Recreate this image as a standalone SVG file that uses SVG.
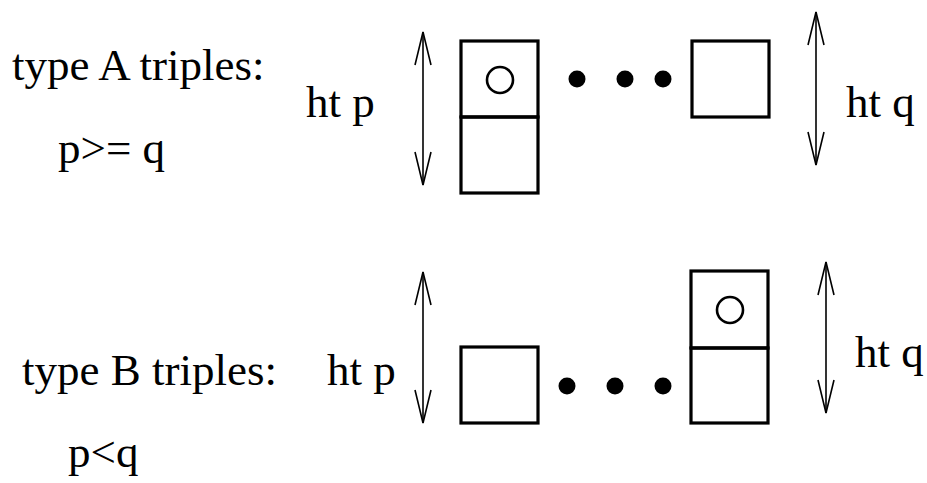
<svg xmlns="http://www.w3.org/2000/svg" width="927" height="483" viewBox="0 0 927 483">
  <style>
    .lbl { font-family: 'Liberation Serif', 'Times New Roman', Times, 'DejaVu Serif', serif; font-size: 45px; fill: #000; }
    .box { fill: none; stroke: #000; stroke-width: 3.2; }
    .ring { fill: none; stroke: #000; stroke-width: 2.6; }
    .dot { fill: #000; }
    .dim { fill: none; stroke: #000; stroke-width: 1.6; }
  </style>
  <defs>
    <!-- open V arrowhead, tip at origin pointing up -->
    <path id="vhead" d="M -8 33 L 0 0 L 8 33" fill="none" stroke="#000" stroke-width="1.6"/>
  </defs>

  <g id="labels">
    <text class="lbl" x="12" y="80">type A triples:</text>
    <text class="lbl" x="58" y="163">p&gt;= q</text>
    <text class="lbl" x="22" y="385">type B triples:</text>
    <text class="lbl" x="68" y="467">p&lt;q</text>
  </g>

  <g id="rowA">
    <g id="a-left-stack">
      <rect class="box" x="461" y="41" width="77" height="76"/>
      <rect class="box" x="461" y="117" width="77" height="76"/>
      <circle class="ring" cx="500" cy="80" r="13"/>
    </g>
    <g id="a-dots">
      <circle class="dot" cx="577" cy="79" r="8.5"/>
      <circle class="dot" cx="625" cy="79" r="8.5"/>
      <circle class="dot" cx="663" cy="79" r="8.5"/>
    </g>
    <g id="a-right-box">
      <rect class="box" x="692" y="41" width="77" height="76"/>
    </g>
    <g id="a-ht-p"><text class="lbl" x="306" y="117">ht p</text></g>
    <g id="a-ht-q"><text class="lbl" x="846" y="117">ht q</text></g>
  </g>

  <g id="rowB">
    <g id="b-left-box">
      <rect class="box" x="461" y="347" width="77" height="76"/>
    </g>
    <g id="b-dots">
      <circle class="dot" cx="567" cy="386" r="8.5"/>
      <circle class="dot" cx="615" cy="386" r="8.5"/>
      <circle class="dot" cx="663" cy="386" r="8.5"/>
    </g>
    <g id="b-right-stack">
      <rect class="box" x="691" y="271" width="77" height="77"/>
      <rect class="box" x="691" y="348" width="77" height="75"/>
      <circle class="ring" cx="730" cy="310" r="13"/>
    </g>
    <g id="b-ht-p"><text class="lbl" x="327" y="385">ht p</text></g>
    <g id="b-ht-q"><text class="lbl" x="855" y="367">ht q</text></g>
  </g>

  <g id="connectors">
    <!-- height measures, double-headed -->
    <line class="dim" x1="423" y1="32" x2="423" y2="185"/>
    <use href="#vhead" transform="translate(423,32)"/>
    <use href="#vhead" transform="translate(423,185) rotate(180)"/>

    <line class="dim" x1="816" y1="12" x2="816" y2="165"/>
    <use href="#vhead" transform="translate(816,12)"/>
    <use href="#vhead" transform="translate(816,165) rotate(180)"/>

    <line class="dim" x1="423" y1="272" x2="423" y2="423"/>
    <use href="#vhead" transform="translate(423,272)"/>
    <use href="#vhead" transform="translate(423,423) rotate(180)"/>

    <line class="dim" x1="826" y1="262" x2="826" y2="413"/>
    <use href="#vhead" transform="translate(826,262)"/>
    <use href="#vhead" transform="translate(826,413) rotate(180)"/>
  </g>
</svg>
